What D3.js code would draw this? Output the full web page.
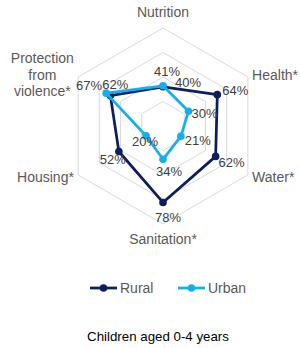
<!DOCTYPE html>
<html>
<head>
<meta charset="utf-8">
<script src="https://cdn.jsdelivr.net/npm/d3@7"></script>
<style>
  html, body { margin: 0; padding: 0; background: #fff; }
  svg { display: block; font-family: "Liberation Sans", Arial, sans-serif; }
</style>
</head>
<body>
<div id="chart"></div>
<script>
const categories = ['Nutrition', 'Health*', 'Water*', 'Sanitation*', 'Housing*', 'Protection\nfrom\nviolence*'];
const rural = [40, 64, 62, 78, 52, 62];
const urban = [41, 30, 21, 34, 20, 67];
const gridLevels = [25, 50, 75, 100];
const seriesNames = ['Rural', 'Urban'];
const subtitle = 'Children aged 0-4 years';

// label nudges (dx, dy) per point, like the hand placed labels in the source
const labelOffsets = {
    Rural: [[25, -4], [18, -4], [16, 6], [5, 15], [-6, 8], [5, -11]],
    Urban: [[4, -14], [16, 2], [17, 4], [6, 12], [-1, 6], [-17, -8]]
};

const width = 300;
const height = 348;
const cx = 163;
const cy = 126;
const color = {
    Rural: '#0b1f5e',
    Urban: '#12b0ec',
    grid: '#d9d9d9',
    label: '#595959',
    value: '#404040'
};

const svg = d3.select('#chart').append('svg')
    .attr('width', width)
    .attr('height', height);

const r = d3.scaleLinear().domain([0, 100]).range([0, 98]);
const angle = d3.scalePoint().domain(d3.range(categories.length)).range([0, 2 * Math.PI * 5 / 6]);

function pos(i, v) {
    const a = angle(i);
    return [cx + r(v) * Math.sin(a), cy - r(v) * Math.cos(a)];
}

const g = svg.append('g');

// grid hexagons
const line = d3.line().curve(d3.curveLinearClosed);
g.selectAll('path.grid')
    .data(gridLevels)
    .enter().append('path')
    .attr('class', 'grid')
    .attr('d', lv => line(categories.map((c, i) => pos(i, lv))))
    .style('fill', 'none')
    .style('stroke', color.grid)
    .style('stroke-width', 1);

// category labels
categories.forEach((c, i) => {
    const a = angle(i);
    const s = Math.sin(a);
    const co = Math.cos(a);
    const lines = c.split('\n');
    const t = g.append('text')
        .style('font-size', '14px')
        .style('fill', color.label);
    if (Math.abs(s) < 0.1) {
        const [x, y] = pos(i, 107);
        t.attr('x', x).attr('y', co > 0 ? y - 4 : y + 13)
            .attr('text-anchor', 'middle')
            .text(c);
    } else {
        const [x, y] = pos(i, 105);
        lines.forEach((l, k) => {
            t.append('tspan')
                .attr('x', x)
                .attr('y', y + 5 + (k - (lines.length - 1) / 2) * 16.5)
                .text(l);
        });
        if (lines.length > 1) {
            const w = d3.max(t.selectAll('tspan').nodes(), n => n.getComputedTextLength());
            t.attr('text-anchor', 'middle');
            t.selectAll('tspan').attr('x', s > 0 ? x + w / 2 : x - w / 2);
        } else {
            t.attr('text-anchor', s > 0 ? 'start' : 'end');
        }
    }
});

const series = [
    {name: 'Rural', values: rural},
    {name: 'Urban', values: urban}
];

series.forEach(sr => {
    const pts = sr.values.map((v, i) => pos(i, v));
    g.append('path')
        .attr('d', line(pts))
        .style('fill', 'none')
        .style('stroke', color[sr.name])
        .style('stroke-width', 2.75)
        .style('stroke-linejoin', 'round');
    g.selectAll(null)
        .data(pts)
        .enter().append('circle')
        .attr('cx', d => d[0])
        .attr('cy', d => d[1])
        .attr('r', 3.8)
        .style('fill', color[sr.name]);
});

// value labels
series.forEach(sr => {
    sr.values.forEach((v, i) => {
        const [x, y] = pos(i, v);
        const o = labelOffsets[sr.name][i];
        g.append('text')
            .attr('x', x + o[0])
            .attr('y', y + o[1] + 4.5)
            .attr('text-anchor', 'middle')
            .style('font-size', '13px')
            .style('fill', color.value)
            .text(v + '%');
    });
});

// legend
const legend = svg.append('g').attr('transform', 'translate(90,288)');
seriesNames.forEach((name, k) => {
    const lg = legend.append('g').attr('transform', 'translate(' + (k * 88) + ',0)');
    lg.append('line')
        .attr('x1', 0).attr('x2', 27)
        .attr('y1', 0).attr('y2', 0)
        .style('stroke', color[name])
        .style('stroke-width', 2.75);
    lg.append('circle')
        .attr('cx', 13.5).attr('cy', 0).attr('r', 3.8)
        .style('fill', color[name]);
    lg.append('text')
        .attr('x', 30).attr('y', 5)
        .style('font-size', '14px')
        .style('fill', color.label)
        .text(name);
});

svg.append('text')
    .attr('x', 158)
    .attr('y', 341)
    .attr('text-anchor', 'middle')
    .style('font-size', '13.3px')
    .style('fill', '#000')
    .text(subtitle);
</script>
</body>
</html>
